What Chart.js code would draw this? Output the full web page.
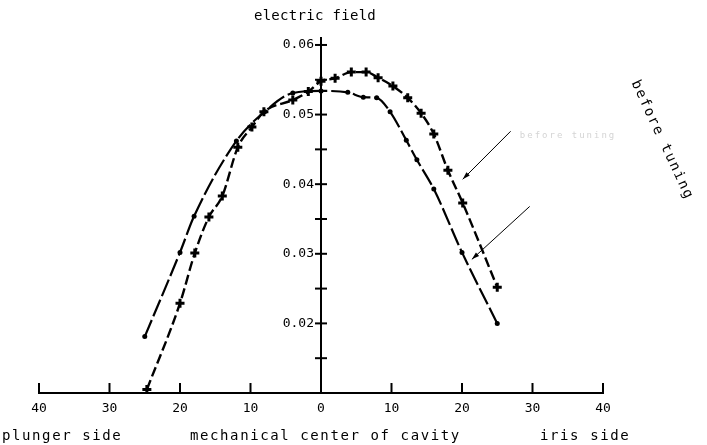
<!DOCTYPE html>
<html>
<head>
<meta charset="utf-8">
<script src="https://cdn.jsdelivr.net/npm/chart.js@4/dist/chart.umd.min.js"></script>
<style>
  html, body { margin: 0; padding: 0; background: #fff; }
</style>
</head>
<body>
<canvas id="chart" width="707" height="445"></canvas>
<script>
const ctx = document.getElementById("chart");

// distance from mechanical centre, negative = plunger side
const afterX = [-25, -20, -18, -12, -8, -4, 0, 3.8, 6, 7.9, 9.8, 12.1, 13.6, 16, 20, 25];
const afterY = [
  0.0181, 0.0302, 0.0354, 0.0462, 0.0504, 0.0531, 0.0534, 0.0532, 0.0525,
  0.0524, 0.0504, 0.0463, 0.0435, 0.0393, 0.0302, 0.02,
];

const beforeX = [
  -24.7, -20, -17.9, -15.9, -14, -11.8, -9.8, -8.1, -4, -1.8, 0, 2, 4.3, 6.4,
  8.1, 10.2, 12.3, 14.2, 16, 18, 20.1, 25,
];
const beforeY = [
  0.0105, 0.0229, 0.0301, 0.0353, 0.0383, 0.0453, 0.0482, 0.0504, 0.0521,
  0.0533, 0.0548, 0.0552, 0.0561, 0.0561, 0.0553, 0.0541, 0.0524, 0.0502,
  0.0472, 0.042, 0.0373, 0.0252,
];

const xTicks = [-40, -30, -20, -10, 0, 10, 20, 30, 40];
const yTicks = [0.015, 0.02, 0.025, 0.03, 0.035, 0.04, 0.045, 0.05, 0.055, 0.06];
const yLabels = [0.02, 0.03, 0.04, 0.05, 0.06];

const title = "electric field";
const bottomLabels = ["plunger side", "mechanical center of cavity", "iris side"];
const sideLabel = "before tuning";

// arrows in data units: [tailX, tailY, tipX, tipY]
const arrows = [
  [26.9, 0.0476, 20.1, 0.0407],
  [29.6, 0.0368, 21.4, 0.0292],
];
const fadedLabelAt = [28.2, 0.047];

const MONO = "'DejaVu Sans Mono', monospace";
Chart.defaults.font.family = MONO;
Chart.defaults.color = "#000";

const toPoints = (xs, ys) => xs.map((x, i) => ({ x: x, y: ys[i] }));

const extras = {
  id: "extras",
  afterDraw(chart) {
    const c = chart.ctx;
    const xs = chart.scales.x;
    const ys = chart.scales.y;
    const x0 = xs.getPixelForValue(0);
    const yb = ys.getPixelForValue(ys.min);

    c.save();
    c.strokeStyle = "#000";
    c.fillStyle = "#000";

    // crossing ticks on the vertical axis
    c.lineWidth = 2;
    yTicks.forEach((v) => {
      const y = ys.getPixelForValue(v);
      c.beginPath();
      c.moveTo(x0 - 6, y);
      c.lineTo(x0 + 6, y);
      c.stroke();
    });
    // upward ticks on the horizontal axis
    xTicks.forEach((v) => {
      if (v === 0) return;
      const x = xs.getPixelForValue(v);
      c.beginPath();
      c.moveTo(x, yb);
      c.lineTo(x, yb - 10);
      c.stroke();
    });

    // vertical axis labels
    c.font = "13px " + MONO;
    c.textAlign = "right";
    c.textBaseline = "middle";
    yLabels.forEach((v) => {
      c.fillText(v.toFixed(2), x0 - 7, ys.getPixelForValue(v));
    });

    // arrows
    c.lineWidth = 1;
    arrows.forEach((a) => {
      const tx = xs.getPixelForValue(a[0]), ty = ys.getPixelForValue(a[1]);
      const hx = xs.getPixelForValue(a[2]), hy = ys.getPixelForValue(a[3]);
      c.beginPath();
      c.moveTo(tx, ty);
      c.lineTo(hx, hy);
      c.stroke();
      const ang = Math.atan2(hy - ty, hx - tx);
      c.beginPath();
      c.moveTo(hx, hy);
      c.lineTo(hx - 8 * Math.cos(ang - 0.3), hy - 8 * Math.sin(ang - 0.3));
      c.lineTo(hx - 8 * Math.cos(ang + 0.3), hy - 8 * Math.sin(ang + 0.3));
      c.closePath();
      c.fill();
    });

    // faded label next to the upper arrow
    c.fillStyle = "#d4d4d4";
    c.font = "9px " + MONO;
    c.letterSpacing = "2px";
    c.textAlign = "left";
    c.fillText(sideLabel, xs.getPixelForValue(fadedLabelAt[0]), ys.getPixelForValue(fadedLabelAt[1]));

    c.fillStyle = "#000";
    // title
    c.font = "14px " + MONO;
    c.letterSpacing = "0.3px";
    c.textAlign = "center";
    c.fillText(title, x0 - 6, 16);

    // bottom labels
    c.letterSpacing = "1.6px";
    c.textAlign = "left";
    c.fillText(bottomLabels[0], 2, 436);
    c.fillText(bottomLabels[1], 190, 436);
    c.fillText(bottomLabels[2], 540, 436);

    // rotated label
    c.translate(662, 140);
    c.rotate((65 * Math.PI) / 180);
    c.textAlign = "center";
    c.fillText(sideLabel, 0, 0);
    c.restore();
  },
};

new Chart(ctx, {
  type: "scatter",
  data: {
    datasets: [
      {
        label: "after tuning",
        data: toPoints(afterX, afterY),
        showLine: true,
        borderColor: "#000",
        backgroundColor: "#000",
        borderWidth: 2.2,
        borderDash: [18, 4],
        pointStyle: "circle",
        pointRadius: 2.5,
        pointBorderWidth: 0,
        cubicInterpolationMode: "monotone",
      },
      {
        label: "before tuning",
        data: toPoints(beforeX, beforeY),
        showLine: true,
        borderColor: "#000",
        backgroundColor: "#000",
        borderWidth: 2.4,
        borderDash: [10, 4],
        pointStyle: "cross",
        pointRadius: 4.5,
        pointBorderWidth: 3,
        cubicInterpolationMode: "monotone",
      },
    ],
  },
  options: {
    responsive: false,
    animation: false,
    devicePixelRatio: 1,
    layout: { padding: { left: 39, right: 104, top: 38, bottom: 0 } },
    plugins: { legend: { display: false }, tooltip: { enabled: false } },
    scales: {
      x: {
        type: "linear",
        min: -40,
        max: 40,
        afterFit: (s) => { s.height = 52; },
        grid: { display: false, drawTicks: false },
        border: { display: true, color: "#000", width: 2 },
        afterBuildTicks: (s) => { s.ticks = xTicks.map((v) => ({ value: v })); },
        ticks: {
          autoSkip: false,
          maxRotation: 0,
          padding: 8,
          font: { size: 13 },
          callback: (v) => String(Math.abs(v)),
        },
      },
      y: {
        type: "linear",
        min: 0.01,
        max: 0.061,
        position: { x: 0 },
        grid: { display: false },
        border: { display: true, color: "#000", width: 2 },
        afterBuildTicks: (s) => { s.ticks = yTicks.map((v) => ({ value: v })); },
        ticks: { display: false },
      },
    },
  },
  plugins: [extras],
});
</script>
</body>
</html>
